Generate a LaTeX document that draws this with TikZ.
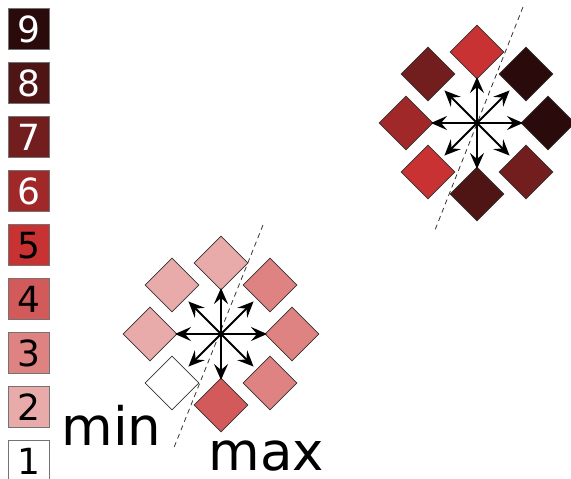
\documentclass[tikz,border=0pt]{standalone}
\usepackage{fontspec}
\setmainfont{DejaVu Sans}
\usetikzlibrary{arrows.meta}
\definecolor{c1}{HTML}{FFFFFF}
\definecolor{c2}{HTML}{E9AAAA}
\definecolor{c3}{HTML}{DE8282}
\definecolor{c4}{HTML}{D35A5A}
\definecolor{c5}{HTML}{C83232}
\definecolor{c6}{HTML}{A02828}
\definecolor{c7}{HTML}{721E1E}
\definecolor{c8}{HTML}{4F1414}
\definecolor{c9}{HTML}{2A0A0A}
\tikzset{
  legbox/.style={draw=black!55, line width=0.9pt, minimum size=41pt, inner sep=0pt},
  legnum/.style={font=\fontsize{36}{36}\selectfont, anchor=base},
  dia/.style={draw=black!80, line width=0.8pt, minimum size=38pt, inner sep=0pt, rotate=45},
  arr/.style={-{Stealth[length=16pt,width=14pt,inset=6pt]}, line width=2.1pt},
  cut/.style={dashed, dash pattern=on 5pt off 4pt, line width=0.8pt, black!80},
  big/.style={font=\fontsize{53}{53}\selectfont, anchor=base west}
}
\begin{document}
\begin{tikzpicture}[x=1pt,y=-1pt]
\useasboundingbox (0,0) rectangle (571,479);
\clip (0,0) rectangle (571,479);
% legend
\foreach \i/\tc in {9/white,8/white,7/white,6/white,5/black,4/black,3/black,2/black,1/black}{
  \pgfmathsetmacro{\yy}{29+(9-\i)*54}
  \node[legbox, fill=c\i] (L\i) at (28.5,\yy) {};
  \node[legnum, text=\tc] (N\i) at (28.5,\yy+13) {\i};
}
% dashed cut lines
\coordinate (ua) at (523,7);
\coordinate (ub) at (435,230);
\coordinate (la) at (263,225);
\coordinate (lb) at (173,450);
\draw[cut] (ua) -- (ub);
\draw[cut] (la) -- (lb);
% upper cluster
\coordinate (UC) at (477,123);
\node[dia, fill=c5] (UT)  at (477,52) {};
\node[dia, fill=c9] (UTR) at (526,74) {};
\node[dia, fill=c9] (UR)  at (548,123) {};
\node[dia, fill=c7] (UBR) at (526,172) {};
\node[dia, fill=c8] (UB)  at (477,194) {};
\node[dia, fill=c5] (UBL) at (428,172) {};
\node[dia, fill=c6] (UL)  at (406,123) {};
\node[dia, fill=c7] (UTL) at (428,74) {};
\foreach \a in {0,45,...,315}{
  \draw[arr] (UC) -- ++(\a:46pt);
}
% lower cluster
\coordinate (LC) at (221,334);
\node[dia, fill=c2] (LT)  at (221,263) {};
\node[dia, fill=c3] (LTR) at (270,285) {};
\node[dia, fill=c3] (LR)  at (292,334) {};
\node[dia, fill=c3] (LBR) at (270,383) {};
\node[dia, fill=c4] (LB)  at (221,405) {};
\node[dia, fill=c1] (LBL) at (172,383) {};
\node[dia, fill=c2] (LL)  at (150,334) {};
\node[dia, fill=c2] (LTL) at (172,285) {};
\foreach \a in {0,45,...,315}{
  \draw[arr] (LC) -- ++(\a:46pt);
}
% labels
\node[big] (min) at (58,445) {min};
\node[big] (max) at (205,470) {max};
\end{tikzpicture}
\end{document}
